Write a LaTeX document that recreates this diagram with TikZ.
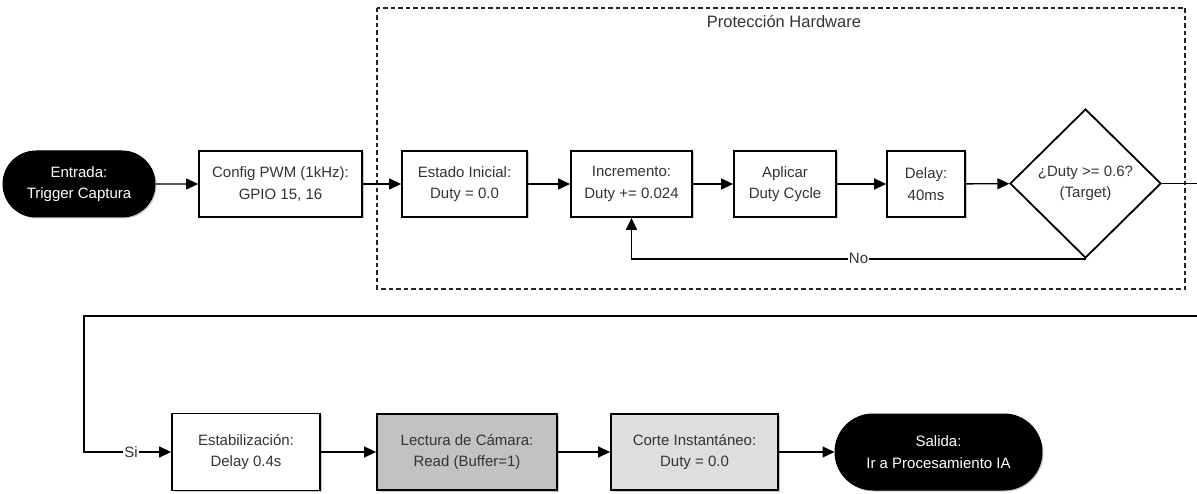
\documentclass[tikz,border=0pt]{standalone}
\usepackage{fontspec}
\setmainfont{Liberation Sans}
\usetikzlibrary{shapes.geometric,shapes.misc,arrows.meta,shadows}

\begin{document}
\begin{tikzpicture}[x=1pt,y=-1pt,
  txt/.style={font=\fontsize{15}{21.5}\selectfont, text=black!80, align=center, inner sep=0pt},
  softshadow/.style={drop shadow={shadow xshift=1.5pt, shadow yshift=-1.5pt, opacity=0.35, fill=black!60}},
  procbox/.style={txt, draw=black, line width=1.8pt, rectangle, fill=white, softshadow, minimum height=66pt},
  terminal/.style={txt, text=white, draw=black, fill=black, rounded rectangle, line width=1pt, softshadow, minimum height=66pt},
  decision/.style={txt, draw=black, line width=1.8pt, diamond, fill=white, minimum width=151pt, minimum height=149pt},
  arr/.style={line width=1.3pt, -{Triangle[length=12pt,width=11pt]}},
  lbl/.style={txt, fill=white, inner sep=1pt},
  group/.style={draw=black!85, line width=1.3pt, dash pattern=on 4.5pt off 3pt}
]
\useasboundingbox (0,0) rectangle (1197,494);

% hardware protection group
\draw[group] (377,8) rectangle (1185,289);
\node[txt, font=\fontsize{16.5}{20}\selectfont] (grouplbl) at (784,22) {Protección Hardware};

% top row
\node[terminal, minimum width=152pt] (ent) at (79,184) {Entrada:\\Trigger Captura};
\node[procbox, minimum width=163pt] (cfg) at (280.5,184) {Config PWM (1kHz):\\GPIO 15, 16};
\node[procbox, minimum width=125pt] (est) at (464.5,184) {Estado Inicial:\\Duty = 0.0};
\node[procbox, minimum width=121pt] (inc) at (631.5,184) {Incremento:\\Duty += 0.024};
\node[procbox, minimum width=102pt] (apl) at (785,184) {Aplicar\\Duty Cycle};
\node[procbox, minimum width=78pt] (dly) at (926,184) {Delay:\\40ms};
\node[decision] (dia) at (1085.5,183.5) {¿Duty >= 0.6?\\(Target)};

% bottom row
\node[procbox, minimum width=148pt, minimum height=77pt] (stab) at (246,452) {Estabilización:\\Delay 0.4s};
\node[procbox, minimum width=180pt, minimum height=76pt, fill=black!24] (cam) at (467,452) {Lectura de Cámara:\\Read (Buffer=1)};
\node[procbox, minimum width=167pt, minimum height=76pt, fill=black!13] (cut) at (694.5,452) {Corte Instantáneo:\\Duty = 0.0};
\node[terminal, minimum width=207pt, minimum height=76pt] (out) at (938.5,452) {Salida:\\Ir a Procesamiento IA};

% turning points of the exit connector
\coordinate (turnR) at (1210,316);
\coordinate (turnL) at (84,316);

% connectors
\draw[arr] (ent) -- (cfg);
\draw[arr] (cfg) -- (est);
\draw[arr] (est) -- (inc);
\draw[arr] (inc) -- (apl);
\draw[arr] (apl) -- (dly);
\draw[arr] (dly) -- (dia);
\draw[arr] (dia.south) -| node[lbl, pos=0.25] {No} (inc.south);
\draw[arr] (dia.east) -| (turnR) -- (turnL) |- node[lbl, pos=0.77] {Si} (stab.west);
\draw[arr] (stab) -- (cam);
\draw[arr] (cam) -- (cut);
\draw[arr] (cut) -- (out);
\end{tikzpicture}
\end{document}
